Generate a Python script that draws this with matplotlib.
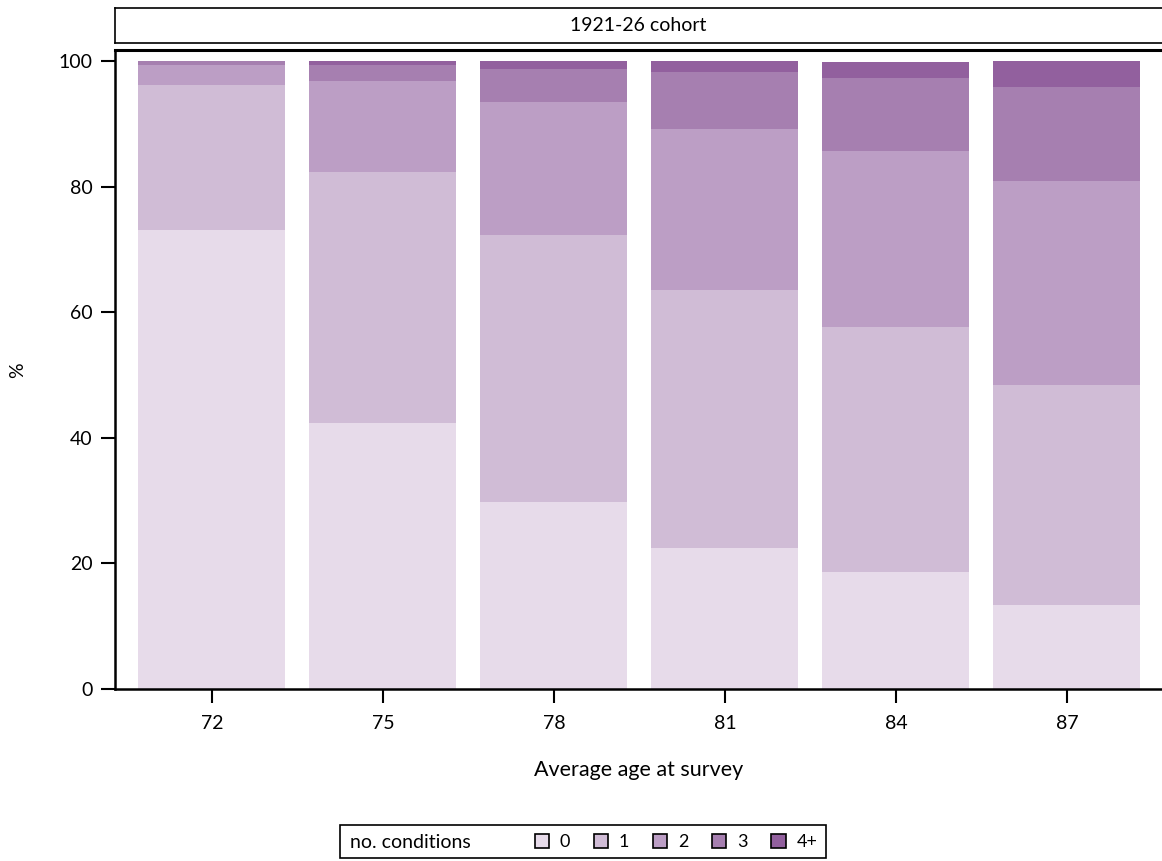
import matplotlib.pyplot as plt
from matplotlib.patches import Patch, Rectangle
import numpy as np

plt.rcParams['font.family'] = ['Lato', 'DejaVu Sans']

ages = ['72', '75', '78', '81', '84', '87']
groups = ['0', '1', '2', '3', '4+']
# percentage of respondents by number of conditions, per survey wave
pct_0 = [73.1, 42.4, 29.8, 22.5, 18.6, 13.4]
pct_1 = [23.1, 39.9, 42.5, 41.0, 39.0, 35.0]
pct_2 = [3.2, 14.5, 21.2, 25.7, 28.1, 32.5]
pct_3 = [0.6, 2.6, 5.3, 9.0, 11.6, 15.0]
pct_4 = [0.0, 0.6, 1.2, 1.8, 2.5, 4.1]
colors = ['#e7dbea', '#d0bcd6', '#bc9ec5', '#a67fb0', '#92609e']

W, H = 1162, 861
fig = plt.figure(figsize=(W / 100, H / 100), dpi=100)
ax = fig.add_axes([115 / W, 1 - 689 / H, 1 - 115 / W, (689 - 50) / H])

x = np.arange(len(ages))
bottom = np.zeros(len(ages))
for vals, col in zip([pct_0, pct_1, pct_2, pct_3, pct_4], colors):
    ax.bar(x, vals, width=0.86, bottom=bottom, color=col, edgecolor='none')
    bottom += np.array(vals)

ax.set_xlim(-0.567, 5.556)
ax.set_ylim(0, 101.75)
ax.set_xticks(x)
ax.set_xticklabels(ages)
ax.set_yticks([0, 20, 40, 60, 80, 100])
ax.tick_params(axis='both', labelsize=14, length=10, width=1.5, pad=6)
ax.tick_params(axis='x', pad=9)
ax.spines['right'].set_visible(False)
for s in ['left', 'bottom']:
    ax.spines[s].set_linewidth(1.8)
ax.spines['top'].set_linewidth(2.2)
ax.set_xlabel('Average age at survey', fontsize=15.5, labelpad=20)
fig.text(18 / W, 1 - 370 / H, '%', fontsize=14, rotation=90, ha='center', va='center')

# facet strip
strip = fig.add_axes([115 / W, 1 - 43 / H, 1 - 115 / W, 35 / H])
strip.set_xticks([])
strip.set_yticks([])
strip.spines['right'].set_visible(False)
for s in ['left', 'top', 'bottom']:
    strip.spines[s].set_linewidth(1.2)
strip.text(0.5, 0.5, '1921-26 cohort', ha='center', va='center', fontsize=14,
           transform=strip.transAxes)

# legend box
fig.patches.append(Rectangle((340 / W, 1 - 858 / H), 486 / W, 33 / H,
                             transform=fig.transFigure, fill=False,
                             edgecolor='black', linewidth=1.2))
fig.text(350 / W, 1 - 842 / H, 'no. conditions', fontsize=14, va='center', ha='left')
handles = [Patch(facecolor=c, edgecolor='black', linewidth=1.2) for c in colors]
fig.legend(handles, groups, ncol=5, frameon=False, fontsize=13,
           loc='center', bbox_to_anchor=(676 / W, 1 - 842 / H),
           handlelength=0.8, handleheight=0.8, handletextpad=0.6,
           columnspacing=1.3, borderaxespad=0)

fig.savefig('out.png', dpi=100)
